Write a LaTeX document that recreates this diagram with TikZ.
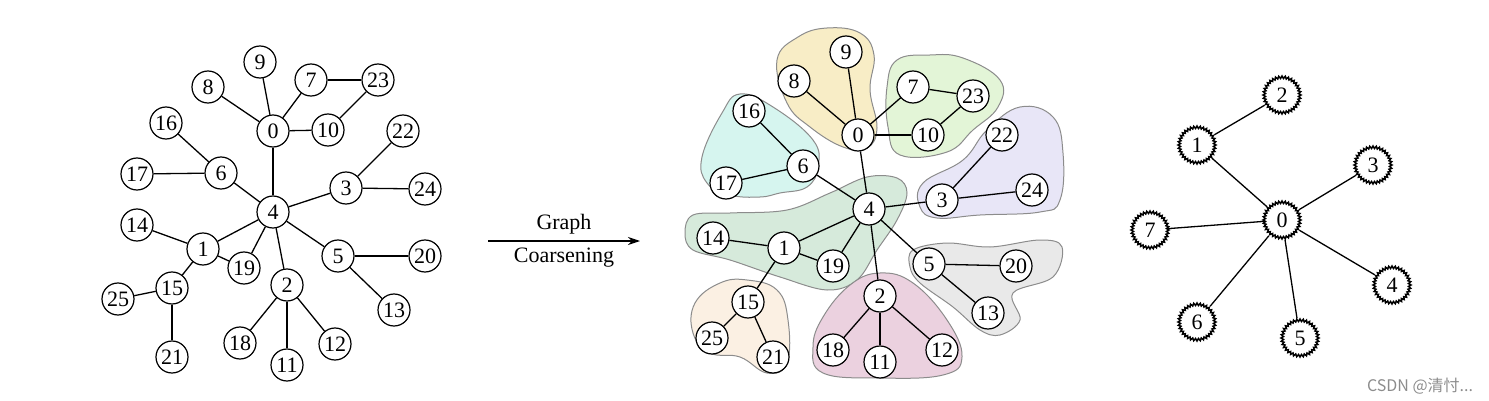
\documentclass[tikz,border=0pt]{standalone}
\usepackage{fontspec}
\setmainfont{Liberation Serif}
\newfontfamily\cjk{Noto Sans CJK SC}
\usetikzlibrary{arrows.meta,shapes.geometric}

\definecolor{blobyellow}{HTML}{F8EDC6}
\definecolor{blobgreen}{HTML}{E3F5D7}
\definecolor{blobcyan}{HTML}{D6F5EF}
\definecolor{bloblilac}{HTML}{E8E6F7}
\definecolor{blobmint}{HTML}{D6EADB}
\definecolor{blobgray}{HTML}{E9E9E9}
\definecolor{blobpink}{HTML}{EBD1DF}
\definecolor{blobpeach}{HTML}{FBF0E3}

\begin{document}
\begin{tikzpicture}[
			x=0.5pt, y=-0.5pt,
			every node/.style={circle, draw, fill=white, inner sep=0pt, minimum size=16pt, font=\fontsize{11}{13}\selectfont, line width=0.6pt},
			super/.style={star, star points=36, star point ratio=1.15, minimum size=19pt, line width=0.75pt},
			lbl/.style={rectangle, draw=none, fill=none, minimum size=0pt, inner sep=1pt, font=\fontsize{11}{13}\selectfont},
			blob/.style={draw=black!45, line width=0.5pt},
			line width=0.65pt
			]
			\useasboundingbox (0,0) rectangle (1489,401);
			% clusters of the coarsened graph
			\draw[blob, fill=blobyellow] plot[smooth cycle, tension=0.7] coordinates {(777,60) (798,37) (827,28) (860,33) (874,55) (870,90) (877,128) (867,148) (843,147) (810,127) (787,103)};
			\draw[blob, fill=blobgreen] plot[smooth cycle, tension=0.7] coordinates {(897,60) (930,55) (963,58) (1000,80) (998,107) (973,130) (947,152) (900,155) (888,127) (887,87)};
			\draw[blob, fill=blobcyan] plot[smooth cycle, tension=0.7] coordinates {(740,94) (773,107) (813,140) (818,167) (807,187) (780,193) (760,197) (730,195) (707,183) (702,157) (722,113)};
			\draw[blob, fill=bloblilac] plot[smooth cycle, tension=0.7] coordinates {(1020,107) (1053,117) (1063,153) (1060,200) (1040,212) (980,215) (937,218) (920,207) (923,183) (963,160) (987,130)};
			\draw[blob, fill=blobmint] plot[smooth cycle, tension=0.6] coordinates {(867,177) (897,178) (907,193) (897,220) (877,250) (857,280) (827,290) (780,277) (730,260) (693,250) (685,233) (693,215) (730,213) (787,210) (830,193)};
			\draw[blob, fill=blobgray] plot[smooth cycle, tension=0.6] coordinates {(913,250) (947,243) (990,247) (1040,240) (1062,247) (1053,277) (1013,293) (1020,320) (1000,335) (980,330) (953,307) (920,283) (910,267)};
			\draw[blob, fill=blobpink] plot[smooth cycle, tension=0.7] coordinates {(880,273) (913,283) (947,320) (962,357) (943,375) (880,378) (823,373) (813,347) (823,317) (850,285)};
			\draw[blob, fill=blobpeach] plot[smooth cycle, tension=0.7] coordinates {(747,280) (777,290) (788,320) (787,363) (767,373) (740,357) (710,353) (693,333) (695,303) (720,283)};
			% original graph
			\node (l0) at (273,131) {0};
			\node (l1) at (203,249) {1};
			\node (l2) at (287,285) {2};
			\node (l3) at (346,188) {3};
			\node (l4) at (273,212) {4};
			\node (l5) at (338,256) {5};
			\node (l6) at (221,173) {6};
			\node (l7) at (311,80) {7};
			\node (l8) at (208,87) {8};
			\node (l9) at (260,62) {9};
			\node (l10) at (328,130) {10};
			\node (l11) at (287,365) {11};
			\node (l12) at (335,344) {12};
			\node (l13) at (394,310) {13};
			\node (l14) at (137,225) {14};
			\node (l15) at (172,288) {15};
			\node (l16) at (166,123) {16};
			\node (l17) at (137,174) {17};
			\node (l18) at (240,343) {18};
			\node (l19) at (244,268) {19};
			\node (l20) at (425,256) {20};
			\node (l21) at (172,357) {21};
			\node (l22) at (403,131) {22};
			\node (l23) at (378,80) {23};
			\node (l24) at (425,189) {24};
			\node (l25) at (118,299) {25};
			\draw (l0) -- (l8);
			\draw (l0) -- (l9);
			\draw (l0) -- (l7);
			\draw (l7) -- (l23);
			\draw (l23) -- (l10);
			\draw (l0) -- (l10);
			\draw (l0) -- (l4);
			\draw (l6) -- (l16);
			\draw (l6) -- (l17);
			\draw (l6) -- (l4);
			\draw (l4) -- (l3);
			\draw (l3) -- (l22);
			\draw (l3) -- (l24);
			\draw (l4) -- (l1);
			\draw (l4) -- (l19);
			\draw (l4) -- (l2);
			\draw (l4) -- (l5);
			\draw (l1) -- (l14);
			\draw (l1) -- (l19);
			\draw (l1) -- (l15);
			\draw (l15) -- (l25);
			\draw (l15) -- (l21);
			\draw (l2) -- (l18);
			\draw (l2) -- (l11);
			\draw (l2) -- (l12);
			\draw (l5) -- (l20);
			\draw (l5) -- (l13);
			% coarsening arrow
			\coordinate (arrA) at (488,241);
			\coordinate (arrB) at (640,241);
			\draw[-{Stealth[length=6pt,width=4pt]}] (arrA) -- node[lbl, above=2pt] {Graph} node[lbl, below=2pt] {Coarsening} (arrB);
			% clustered graph
			\node (m0) at (858,135) {0};
			\node (m1) at (784,248) {1};
			\node (m2) at (880,296) {2};
			\node (m3) at (942,200) {3};
			\node (m4) at (869,209) {4};
			\node (m5) at (929,264) {5};
			\node (m6) at (803,166) {6};
			\node (m7) at (913,87) {7};
			\node (m8) at (794,81) {8};
			\node (m9) at (846,52) {9};
			\node (m10) at (928,135) {10};
			\node (m11) at (880,362) {11};
			\node (m12) at (942,350) {12};
			\node (m13) at (988,313) {13};
			\node (m14) at (713,238) {14};
			\node (m15) at (748,302) {15};
			\node (m16) at (749,111) {16};
			\node (m17) at (726,183) {17};
			\node (m18) at (833,350) {18};
			\node (m19) at (833,266) {19};
			\node (m20) at (1016,266) {20};
			\node (m21) at (773,357) {21};
			\node (m22) at (1002,135) {22};
			\node (m23) at (973,96) {23};
			\node (m24) at (1032,190) {24};
			\node (m25) at (712,338) {25};
			\draw (m0) -- (m8);
			\draw (m0) -- (m9);
			\draw (m0) -- (m7);
			\draw (m7) -- (m23);
			\draw (m23) -- (m10);
			\draw (m0) -- (m10);
			\draw (m0) -- (m4);
			\draw (m6) -- (m16);
			\draw (m6) -- (m17);
			\draw (m6) -- (m4);
			\draw (m4) -- (m3);
			\draw (m3) -- (m22);
			\draw (m3) -- (m24);
			\draw (m4) -- (m1);
			\draw (m4) -- (m19);
			\draw (m4) -- (m2);
			\draw (m4) -- (m5);
			\draw (m1) -- (m14);
			\draw (m1) -- (m19);
			\draw (m1) -- (m15);
			\draw (m15) -- (m25);
			\draw (m15) -- (m21);
			\draw (m2) -- (m18);
			\draw (m2) -- (m11);
			\draw (m2) -- (m12);
			\draw (m5) -- (m20);
			\draw (m5) -- (m13);
			% coarsened graph
			\node[super] (r0) at (1282,220) {0};
			\node[super] (r1) at (1197,145) {1};
			\node[super] (r2) at (1282,95) {2};
			\node[super] (r3) at (1373,165) {3};
			\node[super] (r4) at (1392,285) {4};
			\node[super] (r5) at (1300,338) {5};
			\node[super] (r6) at (1197,322) {6};
			\node[super] (r7) at (1150,230) {7};
			\draw (r1) -- (r2);
			\draw (r0) -- (r1);
			\draw (r0) -- (r3);
			\draw (r0) -- (r4);
			\draw (r0) -- (r5);
			\draw (r0) -- (r6);
			\draw (r0) -- (r7);
			\node[lbl, text=black!45, font=\fontsize{8}{10}\cjk] (mark) at (1420,386) {CSDN @清忖...};
		\end{tikzpicture}
\end{document}
